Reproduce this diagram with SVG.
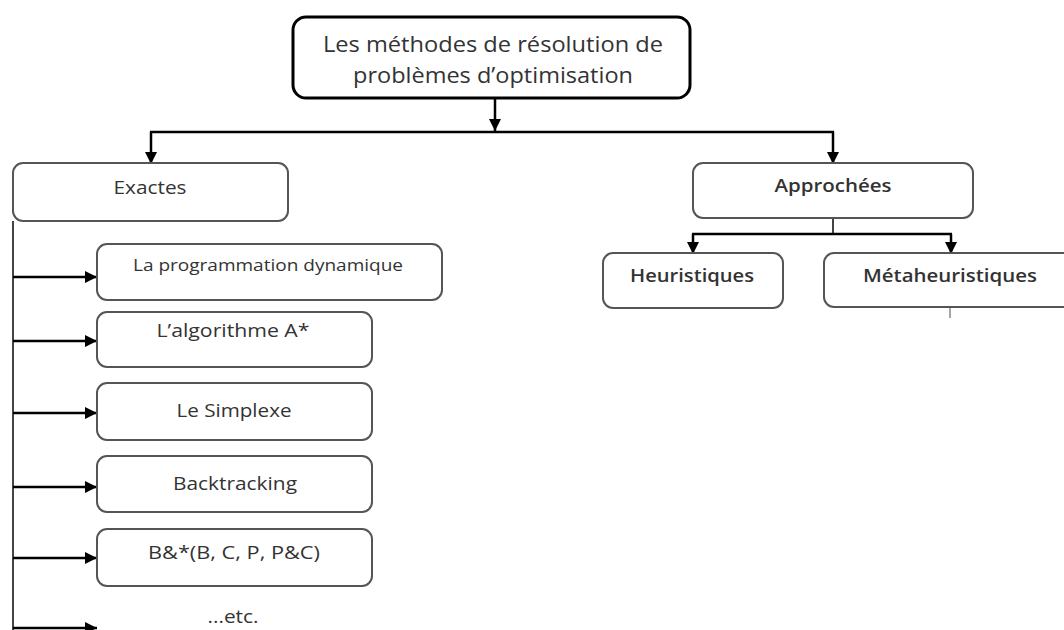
<svg xmlns="http://www.w3.org/2000/svg" width="1064" height="630" viewBox="0 0 1064 630">
<defs>
<marker id="ah" markerUnits="userSpaceOnUse" markerWidth="12" markerHeight="12" viewBox="0 0 12 12" refX="12" refY="6" orient="auto">
<path d="M0,0 L12,6 L0,12 Z" fill="#000"/>
</marker>
<style>
.box{fill:#fff;stroke:#555;stroke-width:2}
.top{fill:#fff;stroke:#000;stroke-width:3}
.c{fill:none;stroke:#000;stroke-width:2.5}
.g{fill:none;stroke:#444;stroke-width:2}
text{font-family:"Open Sans","Noto Sans","Liberation Sans",sans-serif;fill:#333;text-anchor:middle}
.t1{font-size:22px}
.t2{font-size:18px}
.t3{font-size:16px}
.b{font-weight:600}
</style>
</defs>
<rect width="1064" height="630" fill="#fff"/>
<g id="connectors">
<line class="c" x1="495" y1="99" x2="495" y2="131" marker-end="url(#ah)"/>
<line class="c" x1="150" y1="132" x2="834" y2="132"/>
<line class="c" x1="151" y1="132" x2="151" y2="164" marker-end="url(#ah)"/>
<line class="c" x1="833" y1="132" x2="833" y2="164" marker-end="url(#ah)"/>
<line class="g" x1="833" y1="218" x2="833" y2="234"/>
<line class="c" x1="692" y1="234" x2="952" y2="234"/>
<line class="c" x1="693" y1="234" x2="693" y2="254" marker-end="url(#ah)"/>
<line class="c" x1="951" y1="234" x2="951" y2="254" marker-end="url(#ah)"/>
<line stroke="#888" stroke-width="1.5" x1="950" y1="308" x2="950" y2="318"/>
<line class="g" x1="13" y1="221" x2="13" y2="630"/>
<line class="c" x1="13" y1="277" x2="97" y2="277" marker-end="url(#ah)"/>
<line class="c" x1="13" y1="341" x2="97" y2="341" marker-end="url(#ah)"/>
<line class="c" x1="13" y1="413" x2="97" y2="413" marker-end="url(#ah)"/>
<line class="c" x1="13" y1="487" x2="97" y2="487" marker-end="url(#ah)"/>
<line class="c" x1="13" y1="558" x2="97" y2="558" marker-end="url(#ah)"/>
<line class="c" x1="13" y1="628" x2="97" y2="628" marker-end="url(#ah)"/>
</g>
<g id="root">
<rect class="top" x="293" y="17" width="397" height="81" rx="13"/>
<text class="t1" x="493" y="52" textLength="340" lengthAdjust="spacingAndGlyphs">Les méthodes de résolution de</text>
<text class="t1" x="493" y="83" textLength="280" lengthAdjust="spacingAndGlyphs">problèmes d’optimisation</text>
</g>
<g id="exactes">
<rect class="box" x="13" y="163" width="275" height="58" rx="10"/>
<text class="t2" x="150" y="194" textLength="73" lengthAdjust="spacingAndGlyphs">Exactes</text>
</g>
<g id="approchees">
<rect class="box" x="693" y="163" width="280" height="55" rx="10"/>
<text class="t2 b" x="833" y="192" textLength="117" lengthAdjust="spacingAndGlyphs">Approchées</text>
</g>
<g id="heuristiques">
<rect class="box" x="603" y="253" width="180" height="55" rx="10"/>
<text class="t2 b" x="692" y="282" textLength="124" lengthAdjust="spacingAndGlyphs">Heuristiques</text>
</g>
<g id="metaheuristiques">
<rect class="box" x="824" y="253" width="260" height="54" rx="10"/>
<text class="t2 b" x="950" y="282" textLength="174" lengthAdjust="spacingAndGlyphs">Métaheuristiques</text>
</g>
<g id="prog-dyn">
<rect class="box" x="97" y="244" width="345" height="56" rx="10"/>
<text class="t3" x="268" y="271" textLength="270" lengthAdjust="spacingAndGlyphs">La programmation dynamique</text>
</g>
<g id="astar">
<rect class="box" x="97" y="312" width="275" height="55" rx="10"/>
<text class="t2" x="233" y="337" textLength="153" lengthAdjust="spacingAndGlyphs">L’algorithme A*</text>
</g>
<g id="simplexe">
<rect class="box" x="97" y="383" width="275" height="57" rx="10"/>
<text class="t2" x="234" y="417" textLength="115" lengthAdjust="spacingAndGlyphs">Le Simplexe</text>
</g>
<g id="backtracking">
<rect class="box" x="97" y="456" width="275" height="56" rx="10"/>
<text class="t2" x="235" y="490" textLength="124" lengthAdjust="spacingAndGlyphs">Backtracking</text>
</g>
<g id="bnb">
<rect class="box" x="97" y="529" width="275" height="57" rx="10"/>
<text class="t2" x="234" y="559" textLength="172" lengthAdjust="spacingAndGlyphs">B&amp;*(B, C, P, P&amp;C)</text>
</g>
<g id="etc">
<text class="t2" x="233" y="623" textLength="51" lengthAdjust="spacingAndGlyphs">...etc.</text>
</g>
</svg>
